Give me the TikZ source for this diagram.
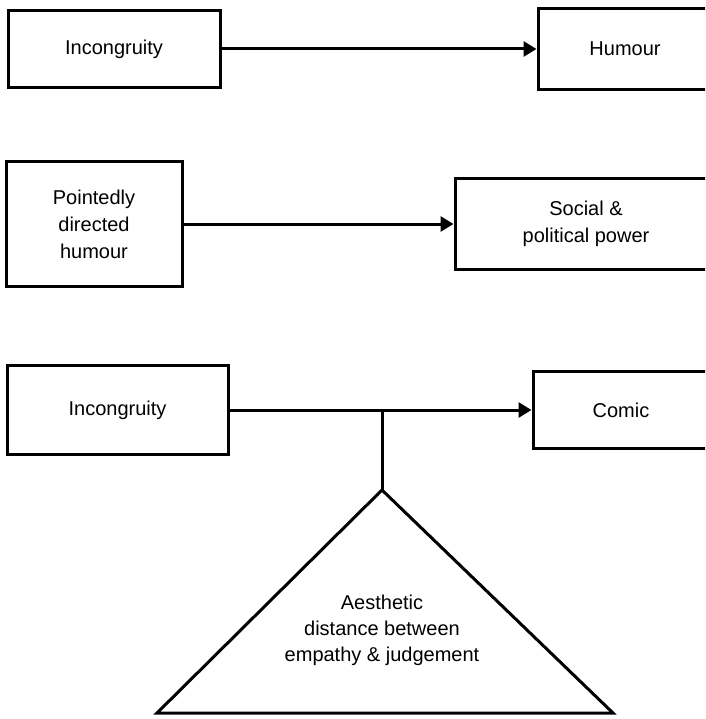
\documentclass[tikz,border=0pt]{standalone}
\usepackage{fontspec}
\setmainfont{Liberation Sans}
\usepackage{tikz}
\usetikzlibrary{arrows.meta}

\tikzset{
  blockbox/.style={draw, line width=3pt, align=center, inner sep=0pt,
    font=\fontsize{20}{27}\selectfont},
  linkarrow/.style={line width=3pt, -{Triangle[length=13pt,width=15pt]}}
}

\begin{document}
\begin{tikzpicture}[x=1pt,y=-1pt]
\useasboundingbox (0,0) rectangle (705,719);
\clip (0,0) rectangle (705,719);

% first row
\node [blockbox, minimum width=212pt, minimum height=77pt] (incA) at (114,49) {Incongruity};
\node [blockbox, minimum width=174pt, minimum height=81pt] (humour) at (625,49) {Humour};
\draw [linkarrow] (incA) -- (humour);

% second row
\node [blockbox, minimum width=176pt, minimum height=125pt] (pointed) at (94,224) {Pointedly\\directed\\humour};
\node [blockbox, minimum width=262pt, minimum height=90pt] (power) at (586,224) {Social \&\\political power};
\draw [linkarrow] (pointed) -- (power);

% third row
\node [blockbox, minimum width=221pt, minimum height=89pt] (incB) at (117.5,410) {Incongruity};
\node [blockbox, minimum width=176pt, minimum height=77pt] (comic) at (621,410) {Comic};
\draw [linkarrow] (incB) -- (comic);

\coordinate (apex) at (382,490);
\coordinate (baseL) at (157,713);
\coordinate (baseR) at (613,713);
\draw [line width=3pt, line join=miter] (apex) -- (baseR) -- (baseL) -- cycle;
\node [align=center, font=\fontsize{20}{26}\selectfont] (distance) at (382,630)
  {Aesthetic\\distance between\\empathy \& judgement};
\draw [line width=3pt] (apex) -- (apex |- comic);
\end{tikzpicture}
\end{document}
